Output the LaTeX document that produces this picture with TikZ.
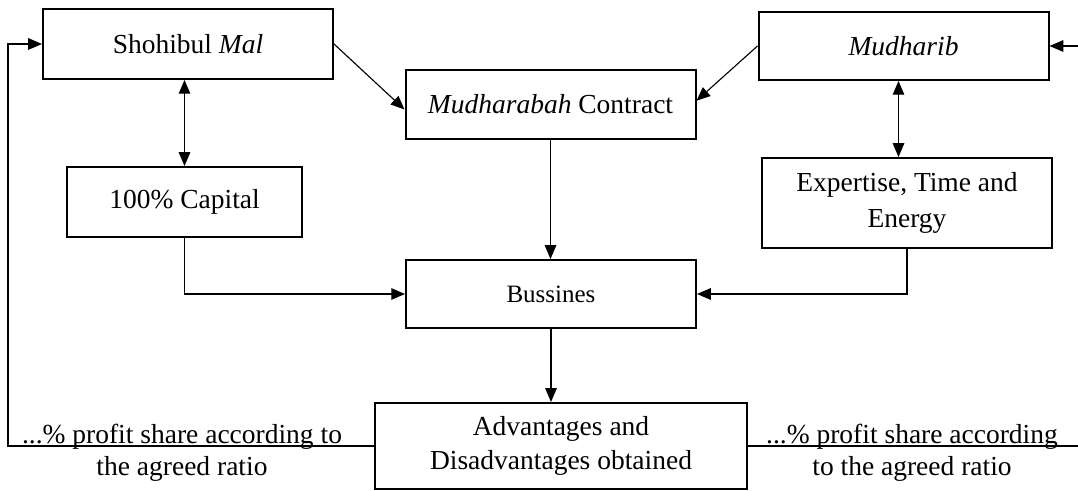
\documentclass[tikz,border=0pt]{standalone}
\usepackage{fontspec}
\setmainfont{Liberation Serif}
\usetikzlibrary{arrows.meta}
\begin{document}
\begin{tikzpicture}[x=0.4pt, y=-0.4pt, >={Triangle[length=5.5pt,width=4.6pt]},
    block/.style={rectangle, draw, line width=0.8pt, minimum width=116pt, minimum height=27.6pt, align=center, font=\fontsize{11}{14.5}\selectfont},
    line/.style={line width=0.45pt},
    share/.style={align=center, anchor=base, inner sep=0pt, font=\fontsize{11}{12.8}\selectfont}]
    \useasboundingbox (0,0) rectangle (1078,491);
    \node (mal) [block, minimum height=28pt] at (188,44) {Shohibul \textit{Mal}};
    \node (mudharib) [block, minimum height=27.2pt] at (903.5,46) {\textit{Mudharib}};
    \node (contract) [block] at (550.5,104.5) {\textit{Mudharabah} Contract};
    \node (capital) [block, minimum width=94pt, minimum height=28pt] at (184.5,202) {100\% Capital};
    \node (expertise) [block, minimum height=36pt] at (907,203) {Expertise, Time and\\Energy};
    \node (business) [block, minimum height=27.2pt, font=\fontsize{10}{12}\selectfont] at (551,294) {Bussines};
    \node (result) [block, minimum width=148.8pt, minimum height=34.4pt, font=\fontsize{11}{13.6}\selectfont] at (561,446) {Advantages and\\Disadvantages obtained};
    % base of a two-line node is its last line
    \node (lshare) [share] at (182,475) {...\% profit share according to\\the agreed ratio};
    \node (rshare) [share] at (912,475) {...\% profit share according\\to the agreed ratio};
    \coordinate (lcorner) at (8,446);
    \coordinate (rend) at (1078,446);
    \coordinate (rstart) at (1078,46);

    \draw[->, line] (mal.east) -- ([yshift=-2pt]contract.west);
    \draw[->, line] (mudharib.west) -- ([yshift=1.5pt]contract.east);
    \draw[<->, line] (capital.north |- mal.south) -- (capital.north);
    \draw[<->, line] ([xshift=-2pt]mudharib.south) -- ([xshift=-2pt]mudharib.south |- expertise.north);
    \draw[->, line] (contract.south) -- (contract.south |- business.north);
    \draw[->, line] (capital.south) |- (business.west);
    \draw[->, line] (expertise.south) |- (business.east);
    \draw[->, line] (business.south) -- (business.south |- result.north);
    \draw[->, line] (result.west) -- (lcorner) |- (mal.west);
    \draw[line] (result.east) -- (rend);
    \draw[->, line] (rstart) -- (mudharib.east);
\end{tikzpicture}
\end{document}
